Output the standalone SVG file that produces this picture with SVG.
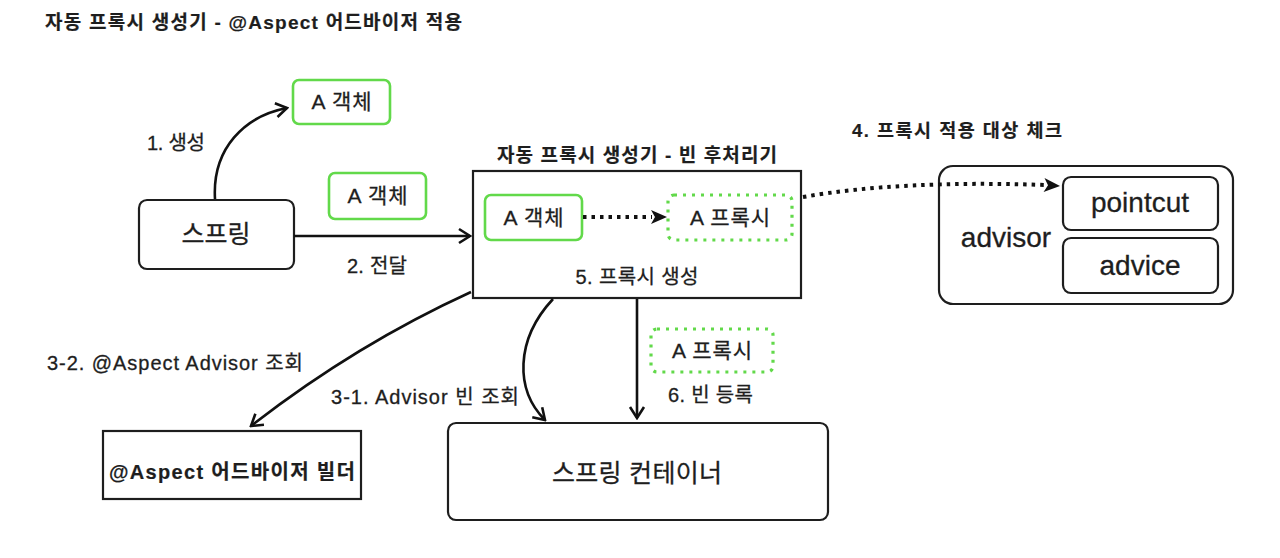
<svg xmlns="http://www.w3.org/2000/svg" width="1280" height="558" viewBox="0 0 1280 558">
<defs>
<style>
text{font-family:"Liberation Sans","Noto Sans CJK KR",sans-serif;fill:#1e1e1e;stroke:#1e1e1e;stroke-width:0.3}
.b{font-weight:bold;stroke-width:0.2}
.c{text-anchor:middle}
.box{fill:#fff;stroke:#1e1e1e;stroke-width:2.2}
.g{fill:#fff;stroke:#62d94a;stroke-width:2.6}
.gd{fill:#fff;stroke:#62d94a;stroke-width:3.2;stroke-dasharray:3 6}
.ln{fill:none;stroke:#111;stroke-width:2.6}
.dl{fill:none;stroke:#111;stroke-width:4;stroke-dasharray:3.5 5}
</style>
<marker id="open" viewBox="-14 -10 16 20" markerWidth="16" markerHeight="20" refX="0" refY="0" orient="auto" markerUnits="userSpaceOnUse">
<path d="M-11,-7 L0,0 L-11,7" fill="none" stroke="#111" stroke-width="2.6" stroke-linejoin="miter"/>
</marker>
<marker id="fill" viewBox="-18 -10 20 20" markerWidth="20" markerHeight="20" refX="0" refY="0" orient="auto" markerUnits="userSpaceOnUse">
<path d="M-16,-7 L0,0 L-16,7 L-12,0 Z" fill="#111"/>
</marker>
</defs>
<rect width="1280" height="558" fill="#fff"/>

<text id="title" class="b" x="45" y="29" font-size="19" textLength="417">자동 프록시 생성기 - @Aspect 어드바이저 적용</text>

<g id="obj1">
<rect class="g" x="293" y="80" width="97" height="44" rx="6"/>
<text class="c" x="341.5" y="109" font-size="21" textLength="60">A 객체</text>
</g>

<g id="spring">
<rect class="box" x="139" y="200" width="155" height="69" rx="8"/>
<text class="c" x="216" y="243" font-size="25">스프링</text>
</g>

<g id="obj2">
<rect class="g" x="329" y="173" width="97" height="46" rx="6"/>
<text class="c" x="377.5" y="203" font-size="21" textLength="60">A 객체</text>
</g>

<g id="bpp">
<text class="c b" x="637" y="162" font-size="19" textLength="280">자동 프록시 생성기 - 빈 후처리기</text>
<rect class="box" x="473" y="171" width="328" height="127"/>
<text class="c" x="637" y="284" font-size="20" textLength="123">5. 프록시 생성</text>
</g>

<g id="innerObj">
<rect class="g" x="485" y="195" width="97" height="45" rx="6"/>
<text class="c" x="533.5" y="225" font-size="21" textLength="60">A 객체</text>
</g>

<g id="innerProxy">
<rect class="gd" x="668" y="195" width="124" height="45" rx="6"/>
<text class="c" x="730" y="225" font-size="21" textLength="80">A 프록시</text>
</g>

<g id="advisor">
<rect class="box" x="939" y="166" width="294" height="138" rx="14"/>
<text class="c" x="1006" y="247" font-size="28">advisor</text>
</g>

<g id="pointcut">
<rect class="box" x="1063" y="177" width="155" height="53" rx="8"/>
<text class="c" x="1140" y="212" font-size="28">pointcut</text>
</g>

<g id="advice">
<rect class="box" x="1063" y="238" width="155" height="55" rx="8"/>
<text class="c" x="1140" y="275" font-size="28">advice</text>
</g>

<g id="builder">
<rect class="box" x="103" y="431" width="258" height="68"/>
<text class="c b" x="232" y="479" font-size="20" textLength="246">@Aspect 어드바이저 빌더</text>
</g>

<g id="container">
<rect class="box" x="448" y="423" width="380" height="97" rx="8"/>
<text class="c" x="637" y="482" font-size="25" textLength="170">스프링 컨테이너</text>
</g>

<g id="proxy2">
<rect class="gd" x="651" y="329" width="122" height="43" rx="6"/>
<text class="c" x="712" y="358" font-size="21" textLength="80">A 프록시</text>
</g>

<g id="connectors">
<path id="e1" class="ln" d="M215,199 C212,148 245,116 287,108" marker-end="url(#open)"/>
<path id="e2" class="ln" d="M294,236 L470,236" marker-end="url(#open)"/>
<path id="e5" class="dl" d="M583,217 L652,217"/>
<path d="M652,217 L667,217" fill="none" stroke="none" marker-end="url(#fill)"/>
<path id="e4" class="dl" d="M803,197 Q900,180 1045,185"/>
<path d="M1045,185 L1060,186" fill="none" stroke="none" marker-end="url(#fill)"/>
<path id="e32" class="ln" d="M471,292 Q355,345 251,426" marker-end="url(#open)"/>
<path id="e31" class="ln" d="M553,299 C515,340 515,390 545,420" marker-end="url(#open)"/>
<path id="e6" class="ln" d="M637,299 L637,418" marker-end="url(#open)"/>
<text x="147" y="150" font-size="20" textLength="58">1. 생성</text>
<text x="347" y="273" font-size="20" textLength="60">2. 전달</text>
<text class="b" x="852" y="137" font-size="18.5" textLength="210">4. 프록시 적용 대상 체크</text>
<text x="47" y="370" font-size="20" textLength="256">3-2. @Aspect Advisor 조회</text>
<text x="331" y="404" font-size="20" textLength="188">3-1. Advisor 빈 조회</text>
<text x="668" y="402" font-size="20" textLength="85">6. 빈 등록</text>
</g>
</svg>
